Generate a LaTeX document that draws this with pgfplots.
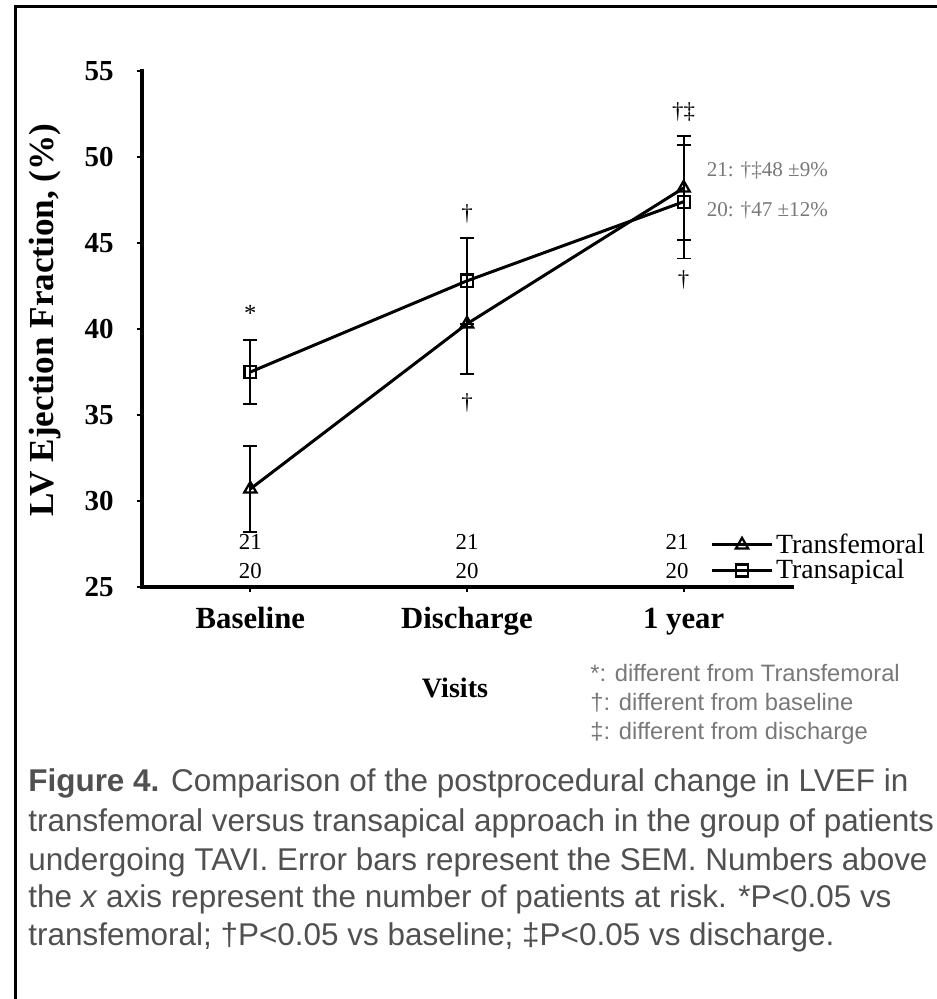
\documentclass[border=0pt]{standalone}
\usepackage{fontspec}
\setmainfont{Liberation Serif}
\setsansfont{Liberation Sans}
\usepackage{pgfplots}
\pgfplotsset{compat=1.18}
\usepackage{pgfplotstable}
\definecolor{capgray}{RGB}{80,80,80}
\definecolor{notegray}{RGB}{120,120,120}

\pgfplotstableread{
x   y     e
0   30.7  2.5
1   40.3  2.9
2   48.2  3.0
}\transfemoral
\pgfplotstableread{
x   y     e
0   37.5  1.85
1   42.8  2.5
2   47.4  3.3
}\transapical

\begin{document}
\begin{tikzpicture}
\path[use as bounding box] (0,0) rectangle (18.74,-19.98);
\draw[line width=1.5pt] (0.31,-19.98) -- (0.31,-0.134) -- (18.74,-0.134);

\begin{axis}[
  at={(2.84cm,-11.74cm)}, anchor=south west,
  scale only axis, width=13cm, height=10.32cm,
  xmin=-0.5, xmax=2.5, ymin=25, ymax=55,
  axis x line*=bottom, axis y line*=left,
  axis line style={line width=2.4pt, line cap=rect},
  xtick={0,1,2}, xticklabels={Baseline, Discharge, 1 year},
  ytick={25,30,35,40,45,50,55},
  tick align=outside, major tick length=0.1cm,
  tick style={black, line width=1.2pt},
  /pgf/number format/assume math mode=true,
  xticklabel style={font=\bfseries\fontsize{17.5}{17.5}\selectfont, anchor=base, yshift=-0.72cm},
  yticklabel style={font=\bfseries\fontsize{16.5}{16.5}\selectfont, anchor=east, inner sep=0pt, xshift=-0.46cm},
  clip=false,
  legend style={at={(0.866,0.057)}, anchor=west, draw=none, fill=none,
    font=\fontsize{15.8}{15.8}\selectfont, row sep=-1pt, nodes={inner sep=1.5pt}},
  legend cell align=left,
  legend image code/.code={\draw[mark repeat=2,mark phase=2,#1] plot coordinates {(0cm,0cm) (0.6cm,0cm) (1.2cm,0cm)};},
]
\addplot[black, line width=1.7pt, mark=triangle, mark size=4pt,
  mark options={solid, fill=white, line width=1.3pt},
  error bars/.cd, y dir=both, y explicit,
  error bar style={line width=1.1pt, black},
  error mark options={rotate=90, mark size=4pt, line width=1.1pt, black}]
  table[x=x, y=y, y error=e] {\transfemoral};
\addplot[black, line width=1.7pt, mark=square, mark size=3.4pt,
  mark options={solid, fill=white, line width=1.3pt},
  error bars/.cd, y dir=both, y explicit,
  error bar style={line width=1.1pt, black},
  error mark options={rotate=90, mark size=4pt, line width=1.1pt, black}]
  table[x=x, y=y, y error=e] {\transapical};
\legend{Transfemoral, Transapical}

\node[font=\fontsize{14}{14}\selectfont] at (axis cs:0,40.9) {*};
\node[font=\fontsize{13}{13}\selectfont] at (axis cs:1,46.7) {†};
\node[font=\fontsize{13}{13}\selectfont] at (axis cs:1,35.7) {†};
\node[font=\fontsize{13}{13}\selectfont] at (axis cs:2,52.6) {†‡};
\node[font=\fontsize{13}{13}\selectfont] at (axis cs:2,42.85) {†};

\node[font=\fontsize{13}{13}\selectfont] at (axis cs:0,27.6) {21};
\node[font=\fontsize{13}{13}\selectfont] at (axis cs:0,25.95) {20};
\node[font=\fontsize{13}{13}\selectfont] at (axis cs:1,27.6) {21};
\node[font=\fontsize{13}{13}\selectfont] at (axis cs:1,25.95) {20};
\node[font=\fontsize{13}{13}\selectfont] at (axis cs:1.97,27.6) {21};
\node[font=\fontsize{13}{13}\selectfont] at (axis cs:1.97,25.95) {20};

\node[anchor=west, text=notegray, font=\fontsize{12}{12}\selectfont, inner sep=0pt] at (axis cs:2.105,49.2) {21: †‡48 ±9\%};
\node[anchor=west, text=notegray, font=\fontsize{12}{12}\selectfont, inner sep=0pt] at (axis cs:2.105,46.9) {20: †47 ±12\%};
\end{axis}

\node[rotate=90, font=\bfseries\fontsize{20}{20}\selectfont] at (0.90,-6.40) {LV Ejection Fraction, (\%)};
\node[font=\bfseries\fontsize{16}{16}\selectfont] at (9.10,-13.76) {Visits};

\begin{scope}[every node/.style={anchor=west, inner sep=0pt, text=notegray, font=\sffamily\fontsize{13.5}{13.5}\selectfont}]
\node at (11.80,-13.46) {*: different from Transfemoral};
\node at (11.80,-14.06) {†: different from baseline};
\node at (11.80,-14.66) {‡: different from discharge};
\end{scope}

\begin{scope}[every node/.style={anchor=mid west, inner sep=0pt, text=capgray, font=\sffamily\fontsize{17.9}{17.9}\selectfont}]
\node at (0.56,-15.74) {\textbf{Figure 4.} Comparison of the postprocedural change in LVEF in};
\node at (0.56,-16.54) {transfemoral versus transapical approach in the group of patients};
\node at (0.56,-17.32) {undergoing TAVI. Error bars represent the SEM. Numbers above};
\node at (0.56,-18.07) {the \textit{x} axis represent the number of patients at risk. *P<0.05 vs};
\node at (0.56,-18.82) {transfemoral; †P<0.05 vs baseline; ‡P<0.05 vs discharge.};
\end{scope}
\end{tikzpicture}
\end{document}
